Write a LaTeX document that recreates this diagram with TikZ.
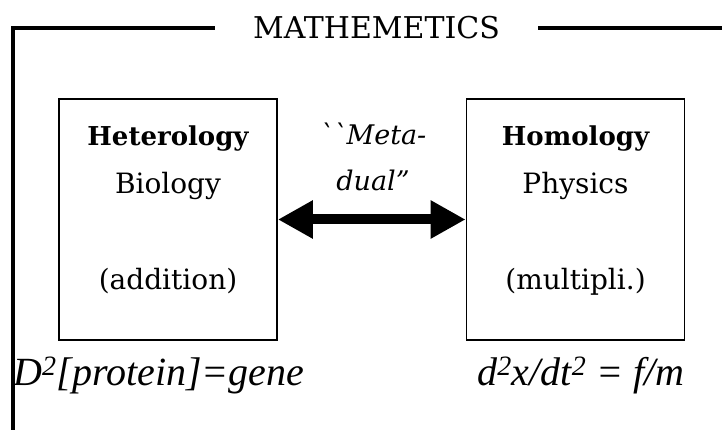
\documentclass[tikz,border=0pt]{standalone}
\usepackage{fontspec}
\setmainfont{DejaVu Serif}
\newfontfamily\formulafont{Liberation Serif}
\newcommand{\paneltitle}[1]{{\fontsize{26}{47.7}\selectfont\bfseries #1}}
\usetikzlibrary{arrows.meta,positioning}
\begin{document}
\begin{tikzpicture}[x=1pt, y=-1pt,
    frame/.style={line width=4pt, line cap=butt},
    panel/.style={draw, line width=1.8pt, minimum width=218pt, minimum height=241pt,
        align=center, inner sep=0pt, font=\fontsize{28}{47.7}\selectfont},
    dualarrow/.style={line width=10pt, {Triangle[length=35pt,width=36pt]}-{Triangle[length=35pt,width=36pt]}},
    formula/.style={font=\formulafont\fontsize{40}{40}\selectfont\itshape, inner sep=0pt}]
    \useasboundingbox (0,0) rectangle (722,430);

    % Title and frame
    \node[font=\fontsize{30}{36}\selectfont, minimum width=323pt, inner sep=0pt] (title) at (376.5,28) {MATHEMETICS};
    \coordinate (frameBL) at (13,430);
    \coordinate (frameTR) at (722,28);
    \draw[frame] (title.west) -| (frameBL);
    \draw[frame] (title.east) -- (frameTR);

    % Boxes
    \node[panel] (het) at (168,219.5) {\paneltitle{Heterology}\\Biology\\[47.7pt](addition)\\[-24pt]};
    \node[panel] (hom) at (575.5,219.5) {\paneltitle{Homology}\\Physics\\[47.7pt](multipli.)\\[-24pt]};

    % Duality arrow
    \draw[dualarrow] (het.east) -- (hom.west);
    \node[font=\fontsize{27}{46}\selectfont\itshape, align=center] (meta) at (373,157)
        {\textasciigrave\textasciigrave Meta-\\dual''};

    % Formulas
    \node[formula, anchor=base west] (hetf) at (13,385) {D\textsuperscript{2}[protein]=gene};
    \node[formula, anchor=base] (homf) at (581,385) {d\textsuperscript{2}x/dt\textsuperscript{2} = f/m};
\end{tikzpicture}
\end{document}
